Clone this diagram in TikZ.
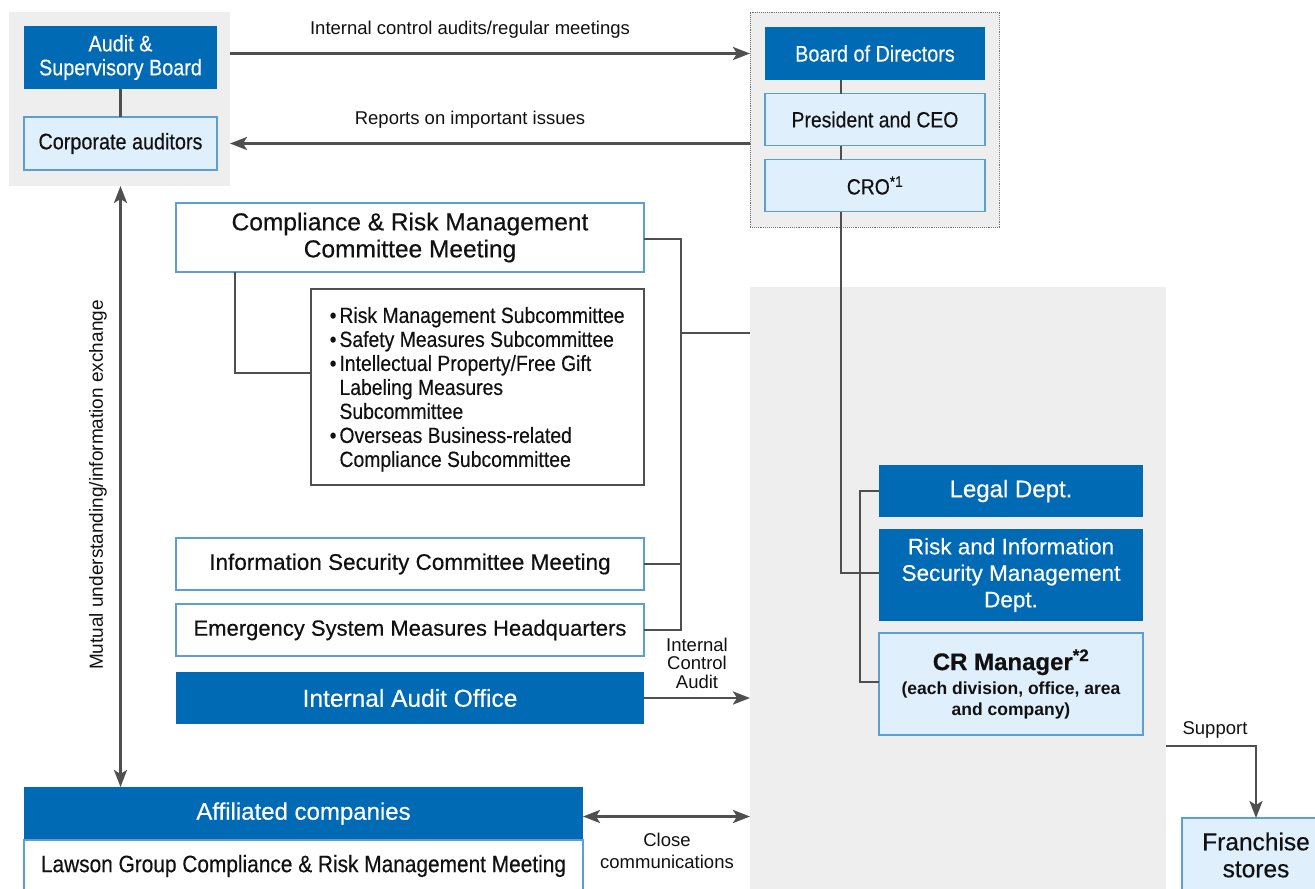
\documentclass[tikz,border=0pt]{standalone}
\usepackage{fontspec}
\setmainfont{Liberation Sans}
\newfontfamily\nar{Liberation Sans}[FakeStretch=0.88,FakeBold=0.35]
\newfontfamily\med{Liberation Sans}[FakeBold=0.45]
\usetikzlibrary{arrows.meta,calc}
\newcommand\setfs[2]{\fontsize{#1}{#2}\selectfont}
\definecolor{cblue}{HTML}{006AB5}
\definecolor{clight}{HTML}{DFF0FC}
\definecolor{cedge}{HTML}{5C9FD6}
\definecolor{cgray}{HTML}{EEEEEE}
\definecolor{cline}{HTML}{4F4F4F}
\definecolor{ctext}{HTML}{111111}
\begin{document}
\begin{tikzpicture}[x=1pt,y=-1pt,
 every node/.style={inner sep=0pt, outer sep=0pt, text=ctext},
 graybg/.style={fill=cgray, draw=none},
 bluebox/.style={fill=cblue, text=white, align=center},
 lightbox/.style={fill=clight, draw=cedge, line width=1.2pt, align=center},
 whitebox/.style={fill=white, draw=cedge, line width=1.2pt, align=center},
 conn/.style={draw=cline, line width=2.7pt},
 arr/.style={conn, -{Stealth[length=17pt,width=13pt,inset=4pt]}},
 darr/.style={conn, {Stealth[length=17pt,width=13pt,inset=4pt]}-{Stealth[length=17pt,width=13pt,inset=4pt]}},
 lbl/.style={font=\setfs{18.5}{21}, align=center}
]
\clip (0,0) rectangle (1315,889);
\fill[white] (0,0) rectangle (1315,889);

% gray backgrounds
\node[graybg, minimum width=221, minimum height=174] (lgray) at (119.5,99) {};
\node[graybg, draw=cline!80, densely dotted, line width=0.9pt, minimum width=249, minimum height=215] (dbox) at (874.5,119.5) {};
\node[graybg, minimum width=416, minimum height=620] (grayR) at (958,597) {};

% left top
\node[bluebox, minimum width=193, minimum height=63, font=\nar\setfs{22.5}{24}] (asb) at (120.5,57.5) {Audit \&\\Supervisory Board};
\node[lightbox, minimum width=193, minimum height=53, font=\nar\setfs{22.5}{24}] (ca) at (120.5,143.5) {Corporate auditors};

% right top
\node[bluebox, minimum width=220, minimum height=53, font=\nar\setfs{22.5}{24}] (bod) at (875,53.5) {Board of Directors};
\node[lightbox, minimum width=220, minimum height=52, font=\nar\setfs{22}{24}] (ceo) at (875,119.5) {President and CEO};
\node[lightbox, minimum width=220, minimum height=52, font=\nar\setfs{22}{24}] (cro) at (875,185.5) {CRO\textsuperscript{*1}};

% committees
\node[whitebox, minimum width=468, minimum height=69, font=\med\setfs{24.5}{27}] (crm) at (410,237.5) {Compliance \& Risk Management\\Committee Meeting};
\node[fill=white, draw=cline, line width=1.2pt, minimum width=333, minimum height=196] (sub) at (477.5,387) {};
\node[anchor=north west, align=left, font=\nar\setfs{22}{24}] (subtxt) at (339.5,307) {\llap{•\hspace{3pt}}Risk Management Subcommittee\\
\llap{•\hspace{3pt}}Safety Measures Subcommittee\\
\llap{•\hspace{3pt}}Intellectual Property/Free Gift\\
Labeling Measures\\
Subcommittee\\
\llap{•\hspace{3pt}}Overseas Business-related\\
Compliance Subcommittee};
\node[whitebox, minimum width=468, minimum height=52, font=\med\setfs{22.5}{24}] (isc) at (410,564) {Information Security Committee Meeting};
\node[whitebox, minimum width=468, minimum height=52, font=\med\setfs{22}{24}] (esm) at (410,630) {Emergency System Measures Headquarters};
\node[bluebox, minimum width=468, minimum height=52, font=\med\setfs{24.5}{26}] (iao) at (410,698) {Internal Audit Office};

% affiliated
\node[bluebox, minimum width=559, minimum height=53, font=\med\setfs{24}{26}] (aff) at (303.5,813.5) {Affiliated companies};
\node[whitebox, minimum width=559, minimum height=52, font=\nar\setfs{23.7}{26}] (lawson) at (303.5,866) {Lawson Group Compliance \& Risk Management Meeting};

% right depts
\node[bluebox, minimum width=264, minimum height=52, font=\med\setfs{24}{26}] (legal) at (1011,491) {Legal Dept.};
\node[bluebox, minimum width=264, minimum height=92, font=\med\setfs{22.5}{26.5}] (risk) at (1011,575) {Risk and Information\\Security Management\\Dept.};
\node[lightbox, minimum width=264, minimum height=102, font=\bfseries\setfs{17.5}{21}] (crmgr) at (1011,684) {{\med\setfs{24}{26}CR Manager\textsuperscript{*2}}\\[3pt](each division, office, area\\and company)};
\node[lightbox, minimum width=148, minimum height=74, font=\med\setfs{24.5}{27}] (fr) at (1256,855) {Franchise\\stores};

% connectors top
\draw[conn] ([xshift=-34pt]bod.south) -- ([xshift=-34pt]ceo.north);
\draw[conn] ([xshift=-34pt]ceo.south) -- ([xshift=-34pt]cro.north);
\draw[conn] (asb.south) -- (ca.north);
\draw[arr] (lgray.east |- bod.center) -- (dbox.west |- bod.center);
\draw[arr] (dbox.west |- ca.center) -- (lgray.east |- ca.center);
\node[lbl] (l1) at (470,30) {Internal control audits/regular meetings};
\node[lbl] (l2) at (470,120) {Reports on important issues};

% CRO down to Risk dept
\draw[conn] ([xshift=-34pt]cro.south) |- ([yshift=2pt]risk.west);
\draw[conn] (legal.west) -- ++(-19,0) |- ([yshift=2pt]crmgr.west);

% committee brackets
\draw[conn] ($(crm.south west)+(59,0)$) |- ($(sub.north west)+(0,84)$);
\coordinate (bx) at (681,333);
\draw[conn] ([yshift=-1.5pt]crm.east) -| (bx |- esm.east) -- (esm.east);
\draw[conn] (isc.east) -- (bx |- isc.east);
\draw[conn] (bx) -- (bx -| grayR.west);

% internal control audit arrow
\draw[arr] (iao.east) -- (iao.east -| grayR.west);
\node[lbl, font=\setfs{18.5}{18.5}] (l3) at (697,663) {Internal\\Control\\Audit};

% mutual arrow
\draw[darr] (lgray.south -| asb.south) -- (aff.north -| asb.south);
\node[lbl, rotate=90, font=\setfs{19}{21}] (l4) at (98,485) {Mutual understanding/information exchange};

% close communications
\draw[darr] ([yshift=-3pt]aff.east) -- ([yshift=-3pt]aff.east -| grayR.west);
\node[lbl, font=\setfs{18.5}{22}] (l5) at (667,851) {Close\\communications};

% support
\coordinate (sup) at (grayR.east |- 0,746);
\draw[arr] (sup) -| (fr.north);
\node[lbl] (l6) at (1215,730) {Support};
\end{tikzpicture}
\end{document}
